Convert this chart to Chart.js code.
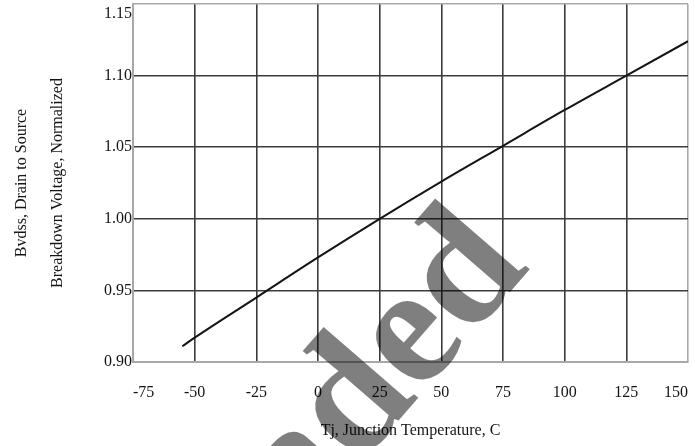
<!DOCTYPE html>
<html>
<head>
<meta charset="utf-8">
<script src="https://cdn.jsdelivr.net/npm/chart.js@4/dist/chart.umd.min.js"></script>
<style>
  html, body { margin: 0; padding: 0; background: #ffffff; }
  #wrap { width: 695px; height: 446px; position: relative; }
</style>
</head>
<body>
<div id="wrap"><canvas id="c" width="695" height="446"></canvas></div>
<script>
// Junction temperature (°C) and normalized drain-to-source breakdown voltage
const temperatures = [-55, -50, -25, 0, 25, 50, 75, 100, 125, 150];
const bvdssNormalized = [0.911, 0.917, 0.945, 0.973, 1.000, 1.026, 1.051, 1.076, 1.100, 1.124];

// Axis ranges and tick steps
const xRange = { min: -75, max: 150, step: 25 };
const yRange = { min: 0.90, max: 1.15, step: 0.05 };

// Axis titles and watermark
const xTitle = 'Tj, Junction Temperature, C';
const yTitle = ['Bvdss, Drain to Source', 'Breakdown Voltage, Normalized'];
const watermarkText = 'Downgraded';

const serif = '"Liberation Serif", "Times New Roman", serif';
const gridDark = '#3c3c3c';
const gridEdge = '#a8a8a8';
const textColor = '#141414';

const watermark = {
  id: 'watermark',
  afterDraw(chart) {
    const ctx = chart.ctx;
    ctx.save();
    ctx.translate(531, 268);
    ctx.rotate(-49 * Math.PI / 180);
    ctx.font = 'bold 170px ' + serif;
    ctx.fillStyle = 'rgba(0,0,0,0.5)';
    ctx.textAlign = 'right';
    ctx.textBaseline = 'alphabetic';
    ctx.fillText(watermarkText, 0, 0);
    ctx.restore();
  }
};

new Chart(document.getElementById('c'), {
  type: 'line',
  data: {
    datasets: [{
      data: temperatures.map((t, i) => ({ x: t, y: bvdssNormalized[i] })),
      borderColor: '#141414',
      borderWidth: 2,
      pointRadius: 0,
      cubicInterpolationMode: 'monotone',
      fill: false
    }]
  },
  options: {
    responsive: false,
    animation: false,
    layout: { padding: { top: 4, right: 7, bottom: 0, left: 0 } },
    plugins: { legend: { display: false }, tooltip: { enabled: false } },
    scales: {
      x: {
        type: 'linear',
        min: xRange.min,
        max: xRange.max,
        afterBuildTicks(scale) {
          const t = [];
          for (let v = xRange.min; v <= xRange.max; v += xRange.step) t.push({ value: v });
          scale.ticks = t;
        },
        afterFit(scale) {
          scale.height = 84;
          scale.paddingLeft = 0;
          scale.paddingRight = 0;
        },
        border: { display: true, color: gridEdge, width: 2 },
        grid: {
          drawTicks: false,
          lineWidth: 1.6,
          color: c => (c.index === 0 || c.tick.value === xRange.max) ? gridEdge : gridDark
        },
        ticks: {
          align: 'inner',
          padding: 21,
          color: textColor,
          font: { family: serif, size: 16 },
          callback: v => String(v)
        },
        title: {
          display: true,
          text: xTitle,
          color: textColor,
          font: { family: serif, size: 16 },
          padding: { top: 0, bottom: 6 }
        }
      },
      y: {
        type: 'linear',
        min: yRange.min,
        max: yRange.max,
        afterBuildTicks(scale) {
          const t = [];
          for (let i = 0; i <= Math.round((yRange.max - yRange.min) / yRange.step); i++) {
            t.push({ value: +(yRange.min + i * yRange.step).toFixed(2) });
          }
          scale.ticks = t;
        },
        afterFit(scale) {
          scale.width = 133;
          scale.paddingTop = 0;
          scale.paddingBottom = 0;
        },
        border: { display: true, color: gridEdge, width: 2 },
        grid: {
          drawTicks: false,
          lineWidth: 1.6,
          color: c => (c.index === 0 || Math.abs(c.tick.value - yRange.max) < 1e-6) ? gridEdge : gridDark
        },
        ticks: {
          padding: 1,
          color: textColor,
          font: { family: serif, size: 16 },
          // the top label sits just below the frame
          callback: v => Math.abs(v - yRange.max) < 1e-6 ? ['', v.toFixed(2)] : v.toFixed(2)
        },
        title: {
          display: true,
          text: yTitle,
          color: textColor,
          font: { family: serif, size: 16, lineHeight: 2.25 },
          padding: { top: 4, bottom: 0 }
        }
      }
    }
  },
  plugins: [watermark]
});
</script>
</body>
</html>
